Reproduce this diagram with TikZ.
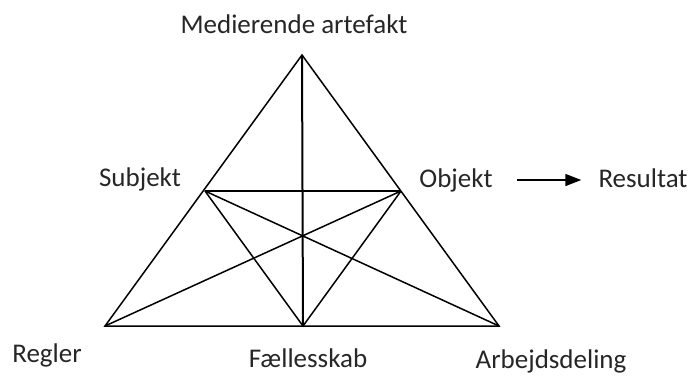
\documentclass[tikz,border=0pt]{standalone}
\usepackage{fontspec}
\setmainfont{Carlito}
\usetikzlibrary{arrows.meta}
\begin{document}
\begin{tikzpicture}[x=1pt,y=-1pt,
  edge/.style={line width=1.5pt,black},
  lbl/.style={font=\fontsize{27}{31}\selectfont,inner sep=0pt,text=black!85,anchor=base}]
\useasboundingbox (0,0) rectangle (693,376);
\coordinate (T) at (302,55);
\coordinate (L) at (105,326);
\coordinate (R) at (499,326);
\coordinate (M) at (303,326);
\coordinate (S) at (205,191);
\coordinate (O) at (401,191);
\draw[edge,line join=miter] (T) -- (L) -- (R) -- cycle;
\draw[edge] (S) -- (O);
\draw[line width=2pt] (T) -- (M);
\draw[edge] (S) -- (M) -- (O);
\draw[edge] (S) -- (R);
\draw[edge] (O) -- (L);
\node[lbl] (tmed) at (294,33) {Medierende artefakt};
\node[lbl] (tsub) at (140,186) {Subjekt};
\node[lbl] (tobj) at (456,187) {Objekt};
\node[lbl] (tres) at (643,187) {Resultat};
\node[lbl] (treg) at (47,362) {Regler};
\node[lbl] (tfae) at (308,367) {Fællesskab};
\node[lbl] (tarb) at (551,368) {Arbejdsdeling};
\coordinate (a1) at ([xshift=24pt,yshift=7pt]tobj.base east);
\coordinate (a2) at ([xshift=-17pt,yshift=7pt]tres.base west);
\draw[line width=1.5pt,-{Triangle[length=16pt,width=12pt]}] (a1) -- (a2);
\end{tikzpicture}
\end{document}
